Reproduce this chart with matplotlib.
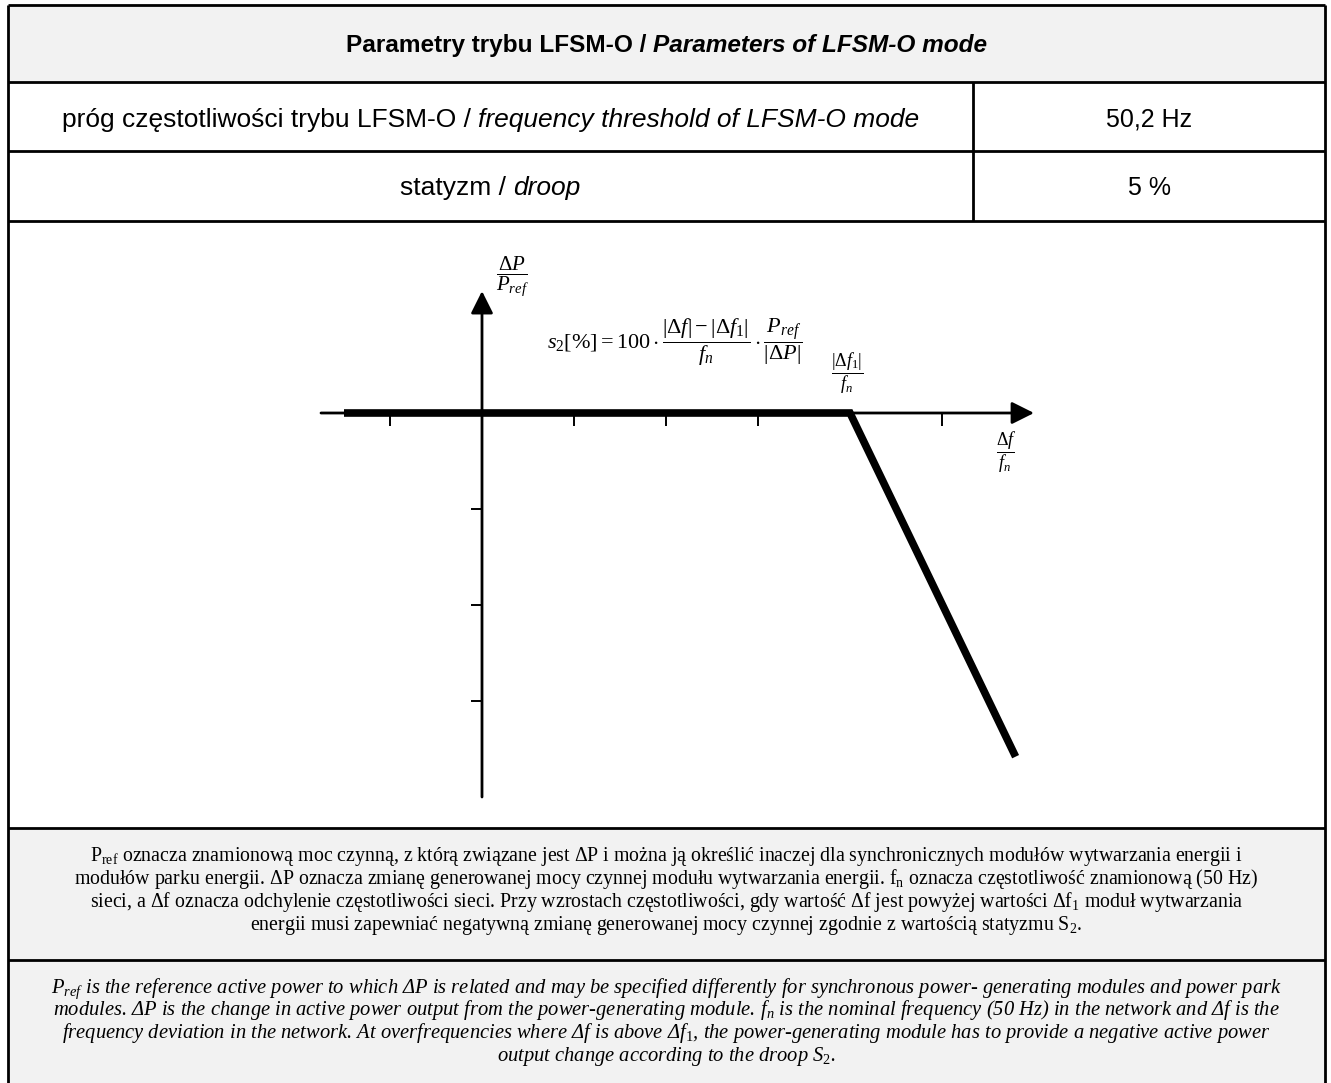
import matplotlib
matplotlib.use('Agg')
import matplotlib.pyplot as plt
from matplotlib.patches import Rectangle

plt.rcParams['mathtext.fontset'] = 'custom'
plt.rcParams['mathtext.rm'] = 'Liberation Serif'
plt.rcParams['mathtext.it'] = 'Liberation Serif:italic'
plt.rcParams['mathtext.bf'] = 'Liberation Serif:bold'

# --- table content ---
title_pl = 'Parametry trybu LFSM-O /'
title_en = 'Parameters of LFSM-O mode'
row_labels_pl = ['próg częstotliwości trybu LFSM-O /', 'statyzm /']
row_labels_en = ['frequency threshold of LFSM-O mode', 'droop']
row_values = ['50,2 Hz', '5 %']

note_pl = [
    r'P$_{\mathrm{ref}}$ oznacza znamionową moc czynną, z którą związane jest ΔP i można ją określić inaczej dla synchronicznych modułów wytwarzania energii i',
    r'modułów parku energii. ΔP oznacza zmianę generowanej mocy czynnej modułu wytwarzania energii. f$_{\mathrm{n}}$ oznacza częstotliwość znamionową (50 Hz)',
    r'sieci, a Δf oznacza odchylenie częstotliwości sieci. Przy wzrostach częstotliwości, gdy wartość Δf jest powyżej wartości Δf$_{\mathrm{1}}$ moduł wytwarzania',
    r'energii musi zapewniać negatywną zmianę generowanej mocy czynnej zgodnie z wartością statyzmu S$_{\mathrm{2}}$.',
]
note_en = [
    r'P$_{ref}$ is the reference active power to which ΔP is related and may be specified differently for synchronous power- generating modules and power park',
    r'modules. ΔP is the change in active power output from the power-generating module. f$_{n}$ is the nominal frequency (50 Hz) in the network and Δf is the',
    r'frequency deviation in the network. At overfrequencies where Δf is above Δf$_{1}$, the power-generating module has to provide a negative active power',
    r'output change according to the droop S$_{2}$.',
]

# --- LFSM-O characteristic (in units of the drawn grid) ---
tick_x = [-1, 1, 2, 3, 5]
tick_y = [-1, -2, -3]
curve_x = [-1.5, 4.0, 5.8]
curve_y = [0.0, 0.0, -3.58]

W, H = 1331, 1083
fig = plt.figure(figsize=(W / 100, H / 100), dpi=100)
bg = fig.add_axes([0, 0, 1, 1])
bg.set_xlim(0, W)
bg.set_ylim(H, 0)
bg.axis('off')

L, R, T = 8, 1325, 5
row_y = [5, 82, 151, 221, 828, 960]
gray = '#f2f2f2'
bg.add_patch(Rectangle((L, T), R - L, row_y[1] - T, fc=gray, ec='none'))
bg.add_patch(Rectangle((L, row_y[4]), R - L, H - row_y[4], fc=gray, ec='none'))
bg.hlines(row_y, L, R, color='k', lw=2)
bg.vlines([L, R], T, H + 5, color='k', lw=2)
bg.vlines(973, row_y[1], row_y[3], color='k', lw=2)

renderer = fig.canvas.get_renderer()
sans = 'Liberation Sans'
serif = 'Liberation Serif'


def mixed(x, yc, parts, size):
    # centre a line built from pieces with different styles
    base = yc + 0.36 * size * 100 / 72
    texts = [bg.text(0, base, s, fontsize=size, family=sans, va='baseline', ha='left', **st)
             for s, st in parts]
    a = bg.text(0, 0, 'a a', fontsize=size, family=sans)
    b = bg.text(0, 0, 'aa', fontsize=size, family=sans)
    gap = a.get_window_extent(renderer).width - b.get_window_extent(renderer).width
    a.remove()
    b.remove()
    widths = [t.get_window_extent(renderer).width for t in texts]
    x0 = x - (sum(widths) + gap * (len(texts) - 1)) / 2
    for t, w in zip(texts, widths):
        t.set_x(x0)
        x0 += w + gap


mixed((L + R) / 2, 43, [(title_pl, dict(weight='bold')),
                        (title_en, dict(weight='bold', style='italic'))], 17.6)
for i, yc in enumerate([117, 186]):
    mixed((L + 973) / 2, yc, [(row_labels_pl[i], {}), (row_labels_en[i], dict(style='italic'))], 19)
    bg.text((973 + R) / 2, yc + 0.36 * 18 * 100 / 72, row_values[i], fontsize=18, family=sans,
            ha='center', va='baseline')

for i, line in enumerate(note_pl):
    bg.text((L + R) / 2, 861 + 23 * i, line, fontsize=14.3, family=serif, ha='center', va='baseline')
for i, line in enumerate(note_en):
    bg.text((L + R) / 2, 993 + 22.5 * i, line, fontsize=14.8, family=serif, style='italic',
            ha='center', va='baseline')

# --- chart ---
X0, Y0, UX, UY = 482, 413, 92, 96
xlim = (-2, 6.5)
ylim = (-4.3, 1.8)
left = X0 + xlim[0] * UX
right = X0 + xlim[1] * UX
top = Y0 - ylim[1] * UY
bottom = Y0 - ylim[0] * UY
ax = fig.add_axes([left / W, 1 - bottom / H, (right - left) / W, (bottom - top) / H])
ax.set_xlim(xlim)
ax.set_ylim(ylim)
ax.axis('off')

arrow = dict(arrowstyle='-|>', color='k', lw=2, mutation_scale=34, shrinkA=0, shrinkB=0)
ax.annotate('', xy=(6.0, 0), xytext=(-1.75, 0), arrowprops=arrow)
ax.annotate('', xy=(0, 1.27), xytext=(0, -4.0), arrowprops=arrow)
ax.vlines(tick_x, -0.14, 0, color='k', lw=1.4)
ax.hlines(tick_y, -0.12, 0, color='k', lw=1.4)
ax.plot(curve_x, curve_y, color='k', lw=5.5, solid_joinstyle='miter',
        solid_capstyle='butt', zorder=3)

ax.text(0.33, 1.42, r'$\dfrac{\Delta P}{P_{ref}}$', fontsize=15, ha='center', va='center')
ax.text(3.97, 0.42, r'$\dfrac{|\Delta f_1|}{f_n}$', fontsize=13, ha='center', va='center')
ax.text(5.70, -0.41, r'$\dfrac{\Delta f}{f_n}$', fontsize=13, ha='center', va='center')
ax.text(2.10, 0.74, r'$s_2[\%]=100\cdot\dfrac{|\Delta f|-|\Delta f_1|}{f_n}\cdot\dfrac{P_{ref}}{|\Delta P|}$',
        fontsize=16, ha='center', va='center')

fig.savefig('out.png', dpi=100)
